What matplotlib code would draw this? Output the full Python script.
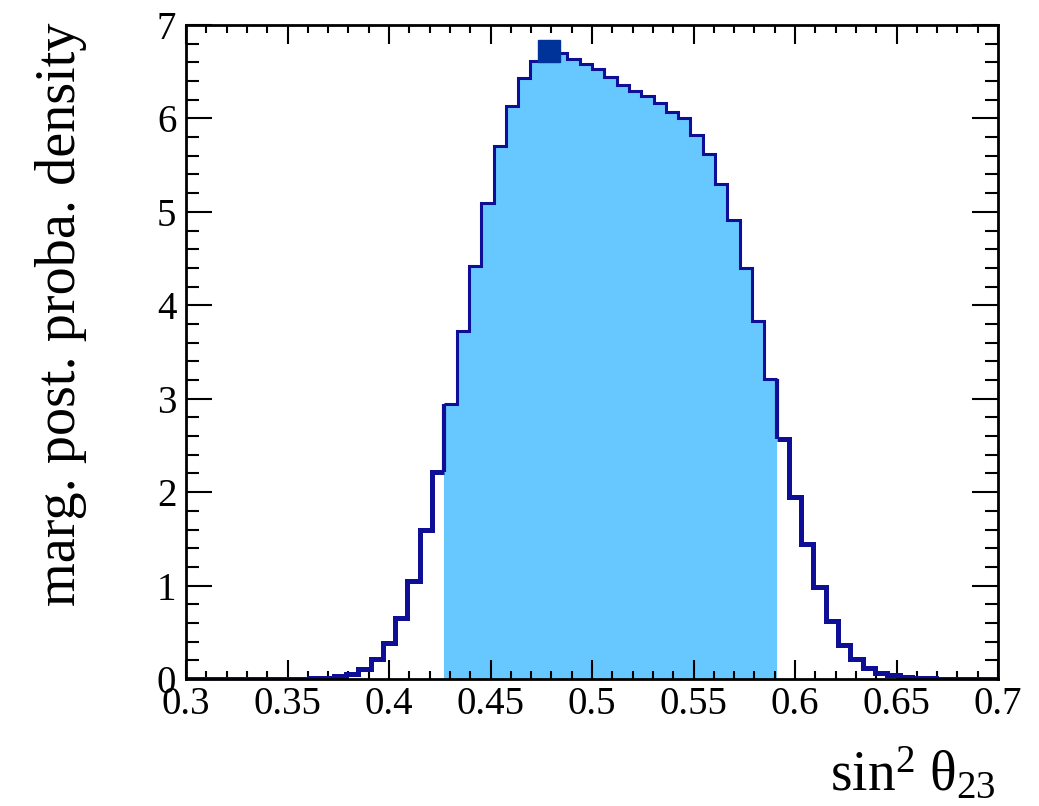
import numpy as np
import matplotlib
matplotlib.use("Agg")
import matplotlib.pyplot as plt
from matplotlib.ticker import FixedLocator, MultipleLocator

# ---------------- data ----------------
x_min, x_max = 0.3, 0.7
n_bins = 66
# marginal posterior density per bin (66 bins from 0.3 to 0.7)
density = [
    0.0, 0.0, 0.0, 0.0, 0.0, 0.0, 0.0, 0.001, 0.002, 0.004,
    0.008, 0.015, 0.03, 0.055, 0.11, 0.21, 0.38, 0.65, 1.05, 1.59,
    2.22,
    # credible interval bins (21 .. 47)
    2.94, 3.72, 4.42, 5.10, 5.70, 6.13, 6.43, 6.62, 6.72, 6.70,
    6.64, 6.58, 6.53, 6.44, 6.36, 6.29, 6.24, 6.17, 6.07, 6.00,
    5.82, 5.62, 5.30, 4.91, 4.40, 3.83, 3.21,
    # right tail
    2.57, 1.95, 1.44, 0.98, 0.62, 0.36, 0.21, 0.115, 0.06, 0.04,
    0.025, 0.015, 0.008, 0.004, 0.002, 0.001, 0.0, 0.0,
]
interval_first_bin = 21
interval_last_bin = 47

x_ticks = [0.3, 0.35, 0.4, 0.45, 0.5, 0.55, 0.6, 0.65, 0.7]
x_tick_labels = ["0.3", "0.35", "0.4", "0.45", "0.5", "0.55", "0.6", "0.65", "0.7"]
y_ticks = [0, 1, 2, 3, 4, 5, 6, 7]
y_tick_labels = ["0", "1", "2", "3", "4", "5", "6", "7"]

y_label = "marg. post. proba. density"
x_label = r"$\mathrm{sin}^{2}\ \mathrm{θ}_{23}$"

# ---------------- style ----------------
plt.rcParams["font.family"] = ["Liberation Serif", "DejaVu Serif"]
plt.rcParams["mathtext.fontset"] = "custom"
plt.rcParams["mathtext.rm"] = "Liberation Serif"
plt.rcParams["mathtext.it"] = "Liberation Serif:italic"

fill_color = "#66C8FF"
line_color = "#0E0E96"
marker_color = "#003399"

W, H = 1039, 806
fig = plt.figure(figsize=(W / 100, H / 100), dpi=100)
ax = fig.add_axes([186 / W, 1 - 679 / H, (998 - 186) / W, (679 - 25) / H])

edges = np.linspace(x_min, x_max, n_bins + 1)
vals = np.asarray(density)
a, b = interval_first_bin, interval_last_bin

# shaded credible interval
ax.stairs(vals[a:b + 1], edges[a:b + 2], fill=True, color=fill_color,
          linewidth=0, zorder=1)
# thin outline inside the interval
ax.stairs(vals[a:b + 1], edges[a:b + 2], baseline=None, color=line_color,
          linewidth=2.2, zorder=3)
# thick outline outside the interval
ax.stairs(vals[:a], edges[:a + 1], baseline=None, color=line_color,
          linewidth=3.6, zorder=2)
ax.stairs(vals[b + 1:], edges[b + 1:], baseline=None, color=line_color,
          linewidth=3.6, zorder=2)
ax.vlines([edges[a], edges[b + 1]], [vals[a - 1], vals[b + 1]],
          [vals[a], vals[b]], color=line_color, linewidth=3.0, zorder=2)

# marker at the mode
imax = int(np.argmax(vals))
ax.plot([(edges[imax] + edges[imax + 1]) / 2], [vals[imax]], marker="s",
        markersize=16.5, color=marker_color, linestyle="none", zorder=4)

ax.set_xlim(x_min, x_max)
ax.set_ylim(0, 7)

ax.xaxis.set_major_locator(FixedLocator(x_ticks))
ax.set_xticklabels(x_tick_labels)
ax.xaxis.set_minor_locator(MultipleLocator(0.01))
ax.yaxis.set_major_locator(FixedLocator(y_ticks))
ax.set_yticklabels(y_tick_labels)
ax.yaxis.set_minor_locator(MultipleLocator(0.2))

ax.tick_params(which="both", direction="in", top=True, right=True,
               width=1.5, labelsize=28)
ax.tick_params(axis="x", which="major", length=13.5, pad=5)
ax.tick_params(axis="x", which="minor", length=6)
ax.tick_params(axis="y", which="major", length=18.5, pad=7)
ax.tick_params(axis="y", which="minor", length=9.3)
for s in ax.spines.values():
    s.set_linewidth(2)
    s.set_zorder(5)

fig.text(61 / W, 1 - 22 / H, y_label, rotation=90, ha="center", va="top",
         fontsize=40.5)
fig.text(996 / W, 1 - 790 / H, x_label, ha="right", va="baseline",
         fontsize=40)

fig.savefig("out.png", dpi=100)
